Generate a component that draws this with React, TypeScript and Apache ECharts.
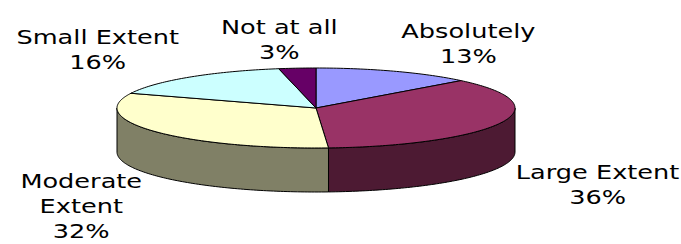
import React, { useEffect, useRef } from "react";
import * as echarts from "echarts";

// ---- data ----
const categories = ["Absolutely", "Large Extent", "Moderate Extent", "Small Extent", "Not at all"];
const values = [13, 36, 32, 16, 3];
const palette = ["#9999FF", "#993366", "#FFFFCC", "#CCFFFF", "#660066"];

// ---- layout constants ----
const WIDTH = 681;
const HEIGHT = 244;
const CX = 316;
const CY = 108;
const RX = 199;
const RY = 40;
const DEPTH = 44;
const LABEL_GAP = 1.08;
const FRONT_DEPTH_SHARE = 0.8;
const FONT_SIZE = 20;
const FONT_FAMILY = "'DejaVu Sans', Verdana, sans-serif";
const LINE_HEIGHT = 25;
const TEXT_STRETCH = 1.28;

function darken(hex: string, k: number): string {
  const h = hex.replace("#", "");
  const r = Math.round(parseInt(h.slice(0, 2), 16) * k);
  const g = Math.round(parseInt(h.slice(2, 4), 16) * k);
  const b = Math.round(parseInt(h.slice(4, 6), 16) * k);
  return `rgb(${r},${g},${b})`;
}

let measureCtx: CanvasRenderingContext2D | null = null;
function textWidth(s: string): number {
  if (!measureCtx) {
    const c = document.createElement("canvas");
    measureCtx = c.getContext("2d");
  }
  if (!measureCtx) return s.length * FONT_SIZE * 0.6;
  measureCtx.font = `${FONT_SIZE}px ${FONT_FAMILY}`;
  return measureCtx.measureText(s).width;
}

function pt(deg: number, dy: number): number[] {
  const r = (deg * Math.PI) / 180;
  return [CX + RX * Math.sin(r), CY - RY * Math.cos(r) + dy];
}

function arc(a: number, b: number, dy: number): number[][] {
  const pts: number[][] = [];
  const n = Math.max(2, Math.ceil(Math.abs(b - a)));
  for (let i = 0; i <= n; i++) pts.push(pt(a + ((b - a) * i) / n, dy));
  return pts;
}

const clamp = (v: number) => Math.max(-1, Math.min(1, v));

export default function App() {
  const ref = useRef<HTMLDivElement>(null);

  useEffect(() => {
    document.body.style.margin = "0";
    if (!ref.current) return;
    const chart = echarts.init(ref.current, null, { renderer: "svg" });
    const total = values.reduce((s, v) => s + v, 0);
    const starts: number[] = [];
    let acc = 0;
    values.forEach((v) => {
      starts.push(acc);
      acc += v;
    });

    const renderItem = (params: any) => {
      const i = params.dataIndex;
      const s = (starts[i] / total) * 360;
      const e = ((starts[i] + values[i]) / total) * 360;
      const color = palette[i % palette.length];
      const children: any[] = [];

      // visible front side
      const a = Math.max(s, 90);
      const b = Math.min(e, 270);
      if (a < b) {
        const side = [...arc(a, b, 0), ...arc(b, a, DEPTH)];
        children.push({
          type: "polygon",
          shape: { points: side },
          style: { fill: darken(color, 0.5), stroke: "#000", lineWidth: 1, lineJoin: "round" },
          z2: 1,
        });
      }

      // top face
      const top = [[CX, CY], ...arc(s, e, 0)];
      children.push({
        type: "polygon",
        shape: { points: top },
        style: { fill: color, stroke: "#000", lineWidth: 1, lineJoin: "round" },
        z2: 2,
      });

      // label
      const mid = ((s + e) / 2) * Math.PI / 180;
      const sn = Math.sin(mid);
      const cs = Math.cos(mid);
      const ax = CX + LABEL_GAP * RX * sn;
      const ay = CY - LABEL_GAP * RY * cs + (cs < 0 ? FRONT_DEPTH_SHARE * DEPTH : 0);
      const pct = Math.round((values[i] / total) * 100) + "%";
      const hx = clamp(3 * sn);
      const hy = clamp(-3 * cs);
      let lines = [categories[i], pct];
      let w = Math.max(...lines.map(textWidth)) * TEXT_STRETCH;
      let bx = ax + (w / 2) * hx;
      if (bx - w / 2 < 0 || bx + w / 2 > WIDTH) {
        lines = [...categories[i].split(" "), pct];
        w = Math.max(...lines.map(textWidth)) * TEXT_STRETCH;
        bx = ax + (w / 2) * hx;
      }
      const h = lines.length * LINE_HEIGHT;
      const by = ay + (h / 2) * hy;
      children.push({
        type: "text",
        x: bx,
        y: by,
        scaleX: TEXT_STRETCH,
        scaleY: 1,
        z2: 10,
        style: {
          text: lines.join("\n"),
          x: 0,
          y: 0,
          fill: "#000",
          fontSize: FONT_SIZE,
          fontFamily: FONT_FAMILY,
          align: "center",
          verticalAlign: "middle",
          lineHeight: LINE_HEIGHT,
        },
      });

      return { type: "group", children };
    };

    chart.setOption({
      animation: false,
      backgroundColor: "#ffffff",
      series: [
        {
          type: "custom",
          coordinateSystem: "none",
          silent: true,
          renderItem,
          data: values.map((v, i) => ({ name: categories[i], value: v })),
        },
      ],
    });
    return () => chart.dispose();
  }, []);

  return <div ref={ref} style={{ width: WIDTH, height: HEIGHT }} />;
}
